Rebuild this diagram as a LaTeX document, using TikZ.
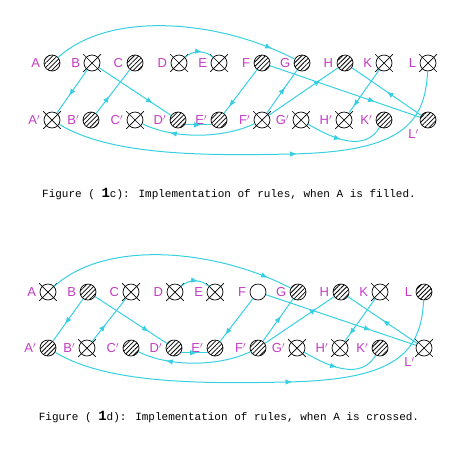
\documentclass[tikz,border=0pt]{standalone}
\usepackage{fontspec}
\setmainfont{Liberation Sans}
\newfontfamily\capfont{Liberation Mono}
\usetikzlibrary{arrows.meta,patterns.meta,shapes.misc,decorations.markings}
\definecolor{wire}{HTML}{38D0E0}
\definecolor{tagc}{HTML}{C33CC3}

\tikzset{
  ball/.style={circle,draw=black,line width=.7pt,minimum size=16pt,inner sep=0pt},
  filled/.style={ball,pattern={Lines[angle=45,distance=3.2pt,line width=.8pt]}},
  crossed/.style={ball,label={[xmark]center:}},
  xmark/.style={cross out,draw=black,line width=.7pt,minimum size=17pt,inner sep=0pt},
  link/.style={wire,line width=1pt},
  arr/.style={postaction={decorate},decoration={markings,
      mark=at position #1 with {\arrow{Latex[length=7pt,width=5.5pt]}}}},
  every label/.style={text=tagc,font=\fontsize{13}{15}\selectfont},
  caption/.style={font=\capfont\fontsize{11}{13}\selectfont},
}
\newcommand\bigone{\raisebox{.5pt}{\fontsize{14}{14}\selectfont\bfseries 1}}

\begin{document}
\begin{tikzpicture}[x=1pt,y=-1pt]
  \useasboundingbox (0,0) rectangle (470,448);

  % figure 1c: A filled
  \node[filled,label=left:A] (A1) at (52,63) {};
  \node[crossed,label=left:B] (B1) at (92,63) {};
  \node[filled,label=left:C] (C1) at (135,63) {};
  \node[crossed,label=left:D] (D1) at (179,63) {};
  \node[crossed,label=left:E] (E1) at (219,63) {};
  \node[filled,label=left:F] (F1) at (262,63) {};
  \node[filled,label=left:G] (G1) at (302,63) {};
  \node[filled,label=left:H] (H1) at (345,63) {};
  \node[crossed,label=left:K] (K1) at (384,63) {};
  \node[crossed,label=left:L] (L1) at (428,63) {};
  \node[crossed,label=left:A$'$] (Ap1) at (52,120) {};
  \node[filled,label=left:B$'$] (Bp1) at (91,120) {};
  \node[crossed,label=left:C$'$] (Cp1) at (135,120) {};
  \node[filled,label=left:D$'$] (Dp1) at (178,120) {};
  \node[filled,label=left:E$'$] (Ep1) at (219,120) {};
  \node[crossed,label=left:F$'$] (Fp1) at (262,120) {};
  \node[crossed,label=left:G$'$] (Gp1) at (301,120) {};
  \node[crossed,label=left:H$'$] (Hp1) at (344,120) {};
  \node[filled,label=left:K$'$] (Kp1) at (384,120) {};
  \node[filled,label=below left:L$'$] (Lp1) at (428,120) {};

  \draw[link,arr=.9] (A1) .. controls (110,10) and (220,20) .. (G1);
  \draw[link,arr=.6] (B1) -- (Ap1);
  \draw[link,arr=.4] (Bp1) -- (C1);
  \draw[link,arr=.75] (B1) -- (Dp1);
  \draw[link,arr=.6] (D1) .. controls (193,50) and (205,50) .. (E1);
  \draw[link,arr=.85] (F1) -- (Ep1);
  \draw[link,arr=.6] (Dp1.-35) -- (Ep1.215);
  \draw[link,arr=.75] (Fp1) .. controls (225,138) and (175,140) .. (Cp1);
  \draw[link,arr=.58] (Ap1) .. controls (110,155) and (200,156) .. (290,154)
    .. controls (400,152) and (425,125) .. (L1);
  \draw[link,arr=.6] (Fp1) -- (G1);
  \draw[link,arr=.75] (Fp1) -- (H1);
  \draw[link,arr=.7] (F1) -- (Lp1);
  \draw[link,arr=.5] (Lp1) -- (H1);
  \draw[link,arr=.85] (K1) -- (Hp1);
  \draw[link,arr=.45] (Gp1) .. controls (335,140) and (365,152) .. (Kp1);

  \node[caption] (cap1) at (229,194)
    {Figure ( \bigone c): Implementation of rules, when A is filled.};

  % figure 1d: A crossed
  \begin{scope}[shift={(-4,229)}]
  \node[crossed,label=left:A] (A2) at (52,63) {};
  \node[filled,label=left:B] (B2) at (92,63) {};
  \node[crossed,label=left:C] (C2) at (135,63) {};
  \node[crossed,label=left:D] (D2) at (179,63) {};
  \node[crossed,label=left:E] (E2) at (219,63) {};
  \node[ball,label=left:F] (F2) at (262,63) {};
  \node[filled,label=left:G] (G2) at (302,63) {};
  \node[filled,label=left:H] (H2) at (345,63) {};
  \node[crossed,label=left:K] (K2) at (384,63) {};
  \node[filled,label=left:L] (L2) at (428,63) {};
  \node[filled,label=left:A$'$] (Ap2) at (52,119) {};
  \node[crossed,label=left:B$'$] (Bp2) at (91,119) {};
  \node[filled,label=left:C$'$] (Cp2) at (135,119) {};
  \node[filled,label=left:D$'$] (Dp2) at (178,119) {};
  \node[filled,label=left:E$'$] (Ep2) at (219,119) {};
  \node[filled,label=left:F$'$] (Fp2) at (262,119) {};
  \node[crossed,label=left:G$'$] (Gp2) at (301,119) {};
  \node[crossed,label=left:H$'$] (Hp2) at (344,119) {};
  \node[filled,label=left:K$'$] (Kp2) at (384,119) {};
  \node[crossed,label=below left:L$'$] (Lp2) at (428,119) {};

  \draw[link,arr=.9] (A2) .. controls (110,10) and (220,20) .. (G2);
  \draw[link,arr=.6] (B2) -- (Ap2);
  \draw[link,arr=.4] (Bp2) -- (C2);
  \draw[link,arr=.75] (B2) -- (Dp2);
  \draw[link,arr=.6] (D2) .. controls (193,50) and (205,50) .. (E2);
  \draw[link,arr=.85] (F2) -- (Ep2);
  \draw[link,arr=.6] (Dp2.-35) -- (Ep2.215);
  \draw[link,arr=.75] (Fp2) .. controls (225,137) and (175,139) .. (Cp2);
  \draw[link,arr=.58] (Ap2) .. controls (110,154) and (200,155) .. (290,153)
    .. controls (400,151) and (425,124) .. (L2);
  \draw[link,arr=.6] (Fp2) -- (G2);
  \draw[link,arr=.75] (Fp2) -- (H2);
  \draw[link,arr=.7] (F2) -- (Lp2);
  \draw[link,arr=.5] (Lp2) -- (H2);
  \draw[link,arr=.85] (K2) -- (Hp2);
  \draw[link,arr=.45] (Gp2) .. controls (335,139) and (365,151) .. (Kp2);
  \end{scope}

  \node[caption] (cap2) at (229,417)
    {Figure ( \bigone d): Implementation of rules, when A is crossed.};
\end{tikzpicture}
\end{document}
